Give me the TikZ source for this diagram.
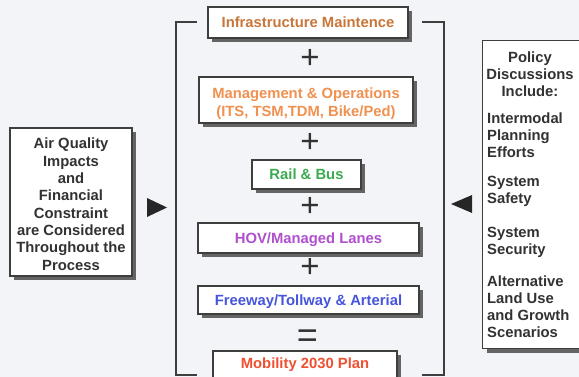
\documentclass[tikz,border=0pt]{standalone}
\usepackage{fontspec}
\setmainfont{Liberation Sans}
\usetikzlibrary{shadows}
\definecolor{bg}{RGB}{242,244,248}
\definecolor{boxline}{RGB}{62,62,62}
\definecolor{shadowgray}{RGB}{100,100,100}
\definecolor{darktext}{RGB}{50,50,50}
\definecolor{cinfra}{RGB}{200,118,58}
\definecolor{cmgmt}{RGB}{240,145,80}
\definecolor{crail}{RGB}{60,170,80}
\definecolor{chov}{RGB}{175,80,205}
\definecolor{cfree}{RGB}{70,85,220}
\definecolor{cmob}{RGB}{240,80,50}
\begin{document}
\begin{tikzpicture}[x=1pt,y=-1pt,
  box/.style={draw=boxline, line width=1.1pt, fill=white, inner sep=0pt,
    font=\bfseries\fontsize{14.8}{17.7}\selectfont,
    drop shadow={shadow xshift=4pt,shadow yshift=-4pt,fill=shadowgray,opacity=1}},
  onelinebox/.style={box, text height=10.6pt, text depth=0pt},
  ltxt/.style={inner sep=0pt, align=center, text=darktext,
    font=\bfseries\fontsize{14.8}{17.3}\selectfont},
  rtxt/.style={inner sep=0pt, text=darktext,
    font=\bfseries\fontsize{14.8}{17}\selectfont},
  op/.style={inner sep=0pt, text=darktext, font=\fontsize{33}{33}\selectfont},
  bracket/.style={draw=boxline, line width=1.4pt},
  tri/.style={fill=black!85}]
\clip (0,0) rectangle (579,377);
\fill[bg] (0,0) rectangle (579,377);

% brackets
\coordinate (lbt) at (197,22);
\coordinate (lbb) at (197,375);
\coordinate (rbt) at (422,22);
\coordinate (rbb) at (422,375);
\draw[bracket] (lbt) -- (176,22) -- (176,375) -- (lbb);
\draw[bracket] (rbt) -- (444,22) -- (444,375) -- (rbb);

% centre column
\node[onelinebox, minimum width=200pt, minimum height=31pt, text=cinfra] (infra) at (308,22.5) {Infrastructure Maintence};
\node[op] (p1) at (310,59) {+};
\node[box, minimum width=214pt, minimum height=46pt] (mgmt) at (306,100) {};
\node[inner sep=0pt, anchor=north, align=center, text=cmgmt,
  font=\bfseries\fontsize{14.8}{17.8}\selectfont] (mgmttext) at (306,88) {Management \& Operations\\(ITS, TSM,TDM, Bike/Ped)};
\node[op] (p2) at (310,143) {+};
\node[onelinebox, minimum width=109pt, minimum height=29pt, text=crail] (rail) at (306.5,174.5) {Rail \& Bus};
\node[op] (p3) at (310,207) {+};
\node[onelinebox, minimum width=221pt, minimum height=30pt, text=chov] (hov) at (308.5,238) {HOV/Managed Lanes};
\node[op] (p4) at (310,268) {+};
\node[onelinebox, minimum width=221pt, minimum height=28pt, text=cfree] (free) at (308.5,300) {Freeway/Tollway \& Arterial};
\node[op, font=\fontsize{36}{36}\selectfont] (eq) at (307.5,339) {=};
\node[box, text height=10.6pt, text depth=10pt, minimum width=184pt, minimum height=34pt, text=cmob] (mob) at (305,368) {Mobility 2030 Plan};

% left box
\node[box, minimum width=122pt, minimum height=148pt] (aq) at (71,202) {};
\node[ltxt, anchor=north] (aqtext) at (71,138) {Air Quality\\Impacts\\and\\Financial\\Constraint\\are Considered\\Throughout the\\Process};
\fill[tri] (147,198) -- (167,207.5) -- (147,217) -- cycle;

% right box
\node[box, minimum width=115pt, minimum height=308pt, anchor=north west] (pol) at (482,40) {};
\node[rtxt, anchor=north, align=center] (polhead) at (530,52) {Policy\\Discussions\\Include:};
\node[rtxt, anchor=north west, align=left] (pol1) at (487,113) {Intermodal\\Planning\\Efforts};
\node[rtxt, anchor=north west, align=left] (pol2) at (487,176) {System\\Safety};
\node[rtxt, anchor=north west, align=left] (pol3) at (487,227) {System\\Security};
\node[rtxt, anchor=north west, align=left] (pol4) at (487,276) {Alternative\\Land Use\\and Growth\\Scenarios};
\fill[tri] (472,195) -- (451,204) -- (472,213) -- cycle;
\end{tikzpicture}
\end{document}
